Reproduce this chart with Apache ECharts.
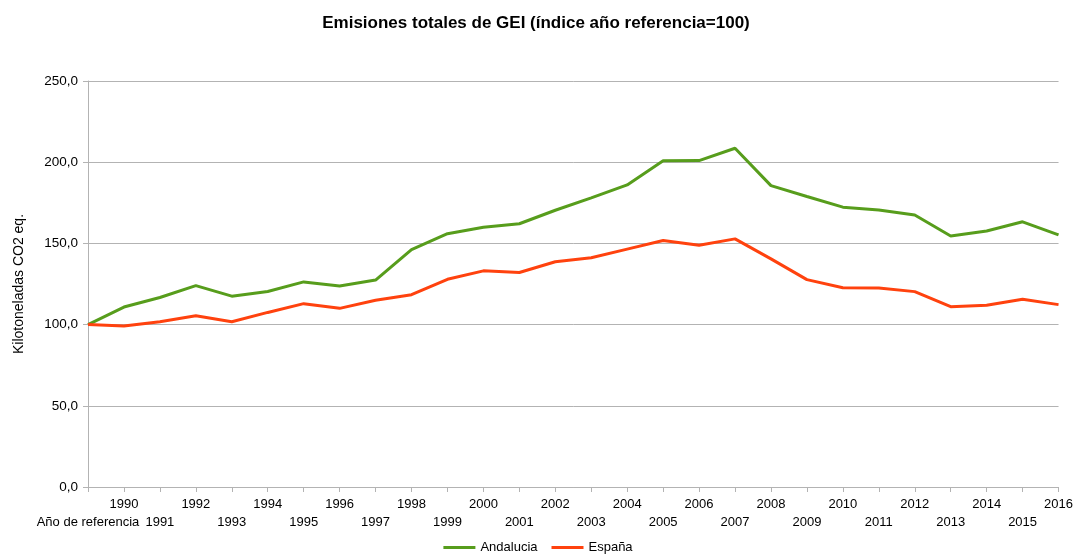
<!DOCTYPE html>
<html>
<head>
<meta charset="utf-8">
<script src="https://cdn.jsdelivr.net/npm/echarts@6/dist/echarts.min.js"></script>
<style>
  html, body { margin: 0; padding: 0; background: #fff; }
  #chart { width: 1076px; height: 560px; }
</style>
</head>
<body>
<div id="chart"></div>
<script>
// categorías del eje x
const years = ['Año de referencia', '1990', '1991', '1992', '1993', '1994', '1995', '1996', '1997',
  '1998', '1999', '2000', '2001', '2002', '2003', '2004', '2005', '2006', '2007', '2008',
  '2009', '2010', '2011', '2012', '2013', '2014', '2015', '2016']

// valores
const andalucia = [100, 110.8, 116.7, 124.0, 117.5, 120.4, 126.3, 123.8, 127.4,
  146.2, 156.0, 160.0, 162.1, 170.4, 178.0, 186.0, 200.9, 201.0, 208.6, 185.6,
  178.9, 172.3, 170.6, 167.5, 154.6, 157.6, 163.3, 155.3]
const espana = [100, 99.1, 101.8, 105.4, 101.8, 107.5, 112.9, 110.0, 115.0,
  118.4, 127.9, 133.1, 132.1, 138.7, 141.2, 146.5, 151.8, 148.9, 152.8, 140.5,
  127.7, 122.7, 122.6, 120.3, 111.0, 111.9, 115.6, 112.3]

const yTicks = { min: 0, max: 250, interval: 50 }

const chart = echarts.init(document.getElementById('chart'))

chart.setOption({
  animation: false,
  textStyle: { fontFamily: 'Liberation Sans' },
  title: {
    text: 'Emisiones totales de GEI (índice año referencia=100)',
    left: 531,
    textAlign: 'center',
    top: 10,
    textStyle: { fontSize: 17, fontWeight: 'bold', color: '#000', fontFamily: 'Liberation Sans' }
  },
  grid: { left: 88, right: 17, top: 81, bottom: 73, containLabel: false },
  legend: {
    bottom: 1,
    left: 'center',
    itemWidth: 32,
    itemHeight: 3,
    itemGap: 14,
    icon: 'rect',
    textStyle: { fontSize: 13, color: '#000' },
    data: ['Andalucia', 'España']
  },
  xAxis: {
    type: 'category',
    boundaryGap: false,
    data: years,
    axisLine: { lineStyle: { color: '#b3b3b3', width: 1 } },
    axisTick: { show: true, alignWithLabel: true, interval: 0, length: 5, lineStyle: { color: '#b3b3b3' } },
    axisLabel: {
      interval: 0,
      color: '#000',
      fontSize: 13,
      margin: 8,
      lineHeight: 18,
      verticalAlign: 'top',
      formatter: (val, idx) => idx % 2 === 1 ? val : '\n' + val
    },
    splitLine: { show: false }
  },
  yAxis: {
    type: 'value',
    min: yTicks.min,
    max: yTicks.max,
    interval: yTicks.interval,
    name: 'Kilotoneladas CO2 eq.',
    nameLocation: 'middle',
    nameGap: 62,
    nameRotate: 90,
    nameTextStyle: { fontSize: 14, color: '#000' },
    axisLine: { show: true, lineStyle: { color: '#b3b3b3' } },
    axisTick: { show: true, length: 5, lineStyle: { color: '#b3b3b3' } },
    axisLabel: {
      color: '#000',
      fontSize: 13.5,
      margin: 10,
      formatter: v => v.toFixed(1).replace('.', ',')
    },
    splitLine: { lineStyle: { color: '#b3b3b3', width: 1 } }
  },
  series: [
    {
      name: 'Andalucia',
      type: 'line',
      data: andalucia,
      showSymbol: false,
      symbol: 'none',
      color: '#579d1c',
      lineStyle: { width: 3, color: '#579d1c' }
    },
    {
      name: 'España',
      type: 'line',
      data: espana,
      showSymbol: false,
      symbol: 'none',
      color: '#ff420e',
      lineStyle: { width: 3, color: '#ff420e' }
    }
  ]
})
</script>
</body>
</html>
